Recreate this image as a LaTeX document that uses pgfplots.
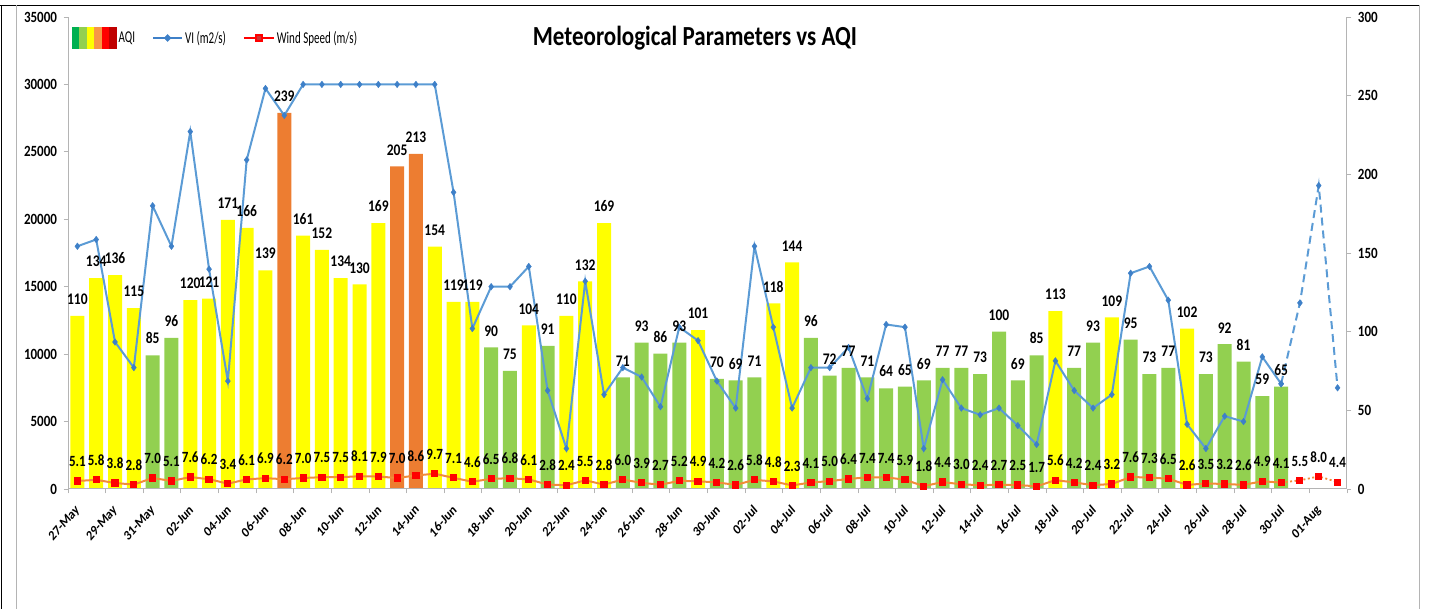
\documentclass[border=0pt]{standalone}
\usepackage{fontspec}
\setmainfont{Carlito}
\usepackage{graphicx}
\usepackage{pgfplots}
\usepackage{pgfplotstable}
\pgfplotsset{compat=1.18}
\definecolor{aqigreen}{HTML}{92D050}
\definecolor{aqiyellow}{HTML}{FFFF00}
\definecolor{aqiorange}{HTML}{ED7D31}
\definecolor{vicol}{HTML}{5B9BD5}
\definecolor{vimark}{HTML}{3E80C8}
\definecolor{wscol}{HTML}{F28C38}
\definecolor{wsmark}{HTML}{FF0000}
\definecolor{axgray}{HTML}{B4B4B4}
\definecolor{sw1}{HTML}{00B050}
\definecolor{sw2}{HTML}{92D050}
\definecolor{sw3}{HTML}{FFFF00}
\definecolor{sw4}{HTML}{F79646}
\definecolor{sw5}{HTML}{FF0000}
\definecolor{sw6}{HTML}{C00000}
\newcommand\vs[2][1.2]{\scalebox{1}[#1]{#2}}
\newcommand\rl[1]{{\fontsize{12}{14}\selectfont\bfseries\scalebox{1}[1.17]{\rotatebox{45}{#1}}\kern-4pt}}

\pgfplotstableread{
idx aqi vi ws
0 110 18000 5.1
1 134 18500 5.8
2 136 10900 3.8
3 115 9000 2.8
4 85 21000 7.0
5 96 18000 5.1
6 120 26500 7.6
7 121 16300 6.2
8 171 8000 3.4
9 166 24400 6.1
10 139 29700 6.9
11 239 27700 6.2
12 161 30000 7.0
13 152 30000 7.5
14 134 30000 7.5
15 130 30000 8.1
16 169 30000 7.9
17 205 30000 7.0
18 213 30000 8.6
19 154 30000 9.7
20 119 22000 7.1
21 119 11900 4.6
22 90 15000 6.5
23 75 15000 6.8
24 104 16500 6.1
25 91 7300 2.8
26 110 3000 2.4
27 132 15400 5.5
28 169 7000 2.8
29 71 9000 6.0
30 93 8300 3.9
31 86 6100 2.7
32 93 12000 5.2
33 101 11000 4.9
34 70 8000 4.2
35 69 6000 2.6
36 71 18000 5.8
37 118 12000 4.8
38 144 6000 2.3
39 96 9000 4.1
40 72 9000 5.0
41 77 10500 6.4
42 71 6700 7.4
43 64 12200 7.4
44 65 12000 5.9
45 69 3000 1.8
46 77 8100 4.4
47 77 6000 3.0
48 73 5500 2.4
49 100 6000 2.7
50 69 4700 2.5
51 85 3300 1.7
52 113 9500 5.6
53 77 7300 4.2
54 93 6000 2.4
55 109 7000 3.2
56 95 16000 7.6
57 73 16500 7.3
58 77 14000 6.5
59 102 4800 2.6
60 73 3000 3.5
61 92 5400 3.2
62 81 5000 2.6
63 59 9800 4.9
64 65 7800 4.1
65 nan 13800 5.5
66 nan 22500 8.0
67 nan 7500 4.4
}\data

\pgfplotsset{
  base/.style={scale only axis, width=1279pt, height=472pt, at={(68pt,120pt)},
    anchor=south west, xmin=-0.5, xmax=67.5, clip=false,
    axis line style={axgray, line width=1pt},
    tick style={axgray, line width=0.8pt},
    tick align=outside, major tick length=4.5pt,
    ticklabel style={font=\fontsize{13}{15}\selectfont\bfseries, text=black},
  },
}

\begin{document}
\begin{tikzpicture}
% outer frame
\draw[black, line width=1.5pt] (0pt,603.5pt) -- (1420pt,603.5pt);
\draw[black, line width=1.5pt] (1.5pt,0pt) -- (1.5pt,603.5pt);
\draw[axgray, line width=1pt] (16.5pt,0pt) -- (16.5pt,603.5pt);
\draw[axgray, line width=1.2pt] (1419.5pt,0pt) -- (1419.5pt,603.5pt);

% Axis A: AQI bars (right axis)
\begin{axis}[base, ymin=0, ymax=300, axis y line*=right, axis x line=none,
  ytick={0,50,...,300},
  yticklabel={\vs{\pgfmathprintnumber[assume math mode=true]{\tick}}},
  yticklabel style={xshift=3pt}]
\addplot[ybar, bar width=14pt, bar shift=0pt, fill=aqigreen, draw=none,
  restrict y to domain=0:100.5] table[x=idx,y=aqi]{\data};
\addplot[ybar, bar width=14pt, bar shift=0pt, fill=aqiyellow, draw=none,
  restrict y to domain=100.5:200.5] table[x=idx,y=aqi]{\data};
\addplot[ybar, bar width=14pt, bar shift=0pt, fill=aqiorange, draw=none,
  restrict y to domain=200.5:300] table[x=idx,y=aqi]{\data};
\end{axis}

% Axis B: VI (left axis) and x axis
\begin{axis}[base, ymin=0, ymax=35000, axis y line*=left, axis x line*=bottom,
  scaled y ticks=false,
  ytick={0,5000,...,35000},
  yticklabel={\vs{\pgfmathprintnumber[assume math mode=true,1000 sep={}]{\tick}}},
  yticklabel style={xshift=-3pt},
  xtick={-0.5,1.5,...,67.5}, xticklabel=\relax,
  xticklabel style={anchor=north east, inner sep=0pt},
  xticklabel shift=15pt,
  extra x ticks={0,2,...,66},
  extra x tick style={major tick length=0pt},
  extra x tick labels={\rl{27-May},\rl{29-May},\rl{31-May},\rl{02-Jun},\rl{04-Jun},\rl{06-Jun},\rl{08-Jun},\rl{10-Jun},\rl{12-Jun},\rl{14-Jun},\rl{16-Jun},\rl{18-Jun},\rl{20-Jun},\rl{22-Jun},\rl{24-Jun},\rl{26-Jun},\rl{28-Jun},\rl{30-Jun},\rl{02-Jul},\rl{04-Jul},\rl{06-Jul},\rl{08-Jul},\rl{10-Jul},\rl{12-Jul},\rl{14-Jul},\rl{16-Jul},\rl{18-Jul},\rl{20-Jul},\rl{22-Jul},\rl{24-Jul},\rl{26-Jul},\rl{28-Jul},\rl{30-Jul},\rl{01-Aug}},
  ]
\addplot[vicol, line width=2pt, mark=diamond*, mark size=3.3pt,
  mark options={fill=vimark, draw=vimark, line width=0.4pt},
  restrict x to domain=0:64] table[x=idx,y=vi]{\data};
\addplot[vicol, line width=2pt, dash pattern=on 8pt off 5pt, mark=diamond*, mark size=3.3pt,
  mark options={solid, fill=vimark, draw=vimark, line width=0.4pt},
  restrict x to domain=64:67] table[x=idx,y=vi]{\data};
\end{axis}

% Axis C: wind speed, labels, legend
\begin{axis}[base, ymin=0, ymax=300, hide axis,
  legend style={at={(axis description cs:0.0012,0.9555)}, anchor=west,
    fill=white, draw=none, inner xsep=2pt, inner ysep=11pt,
    font=\fontsize{11}{13}\selectfont,
    /tikz/every even column/.append style={column sep=15pt}},
  legend columns=3, legend cell align=left]
\addplot[forget plot, wscol, line width=2pt, mark=square*, mark size=2.6pt,
  mark options={fill=wsmark, draw=wsmark},
  restrict x to domain=0:64] table[x=idx,y=ws]{\data};
\addplot[forget plot, wscol, line width=1.8pt, dash pattern=on 2pt off 2.5pt, mark=square*, mark size=2.6pt,
  mark options={solid, fill=wsmark, draw=wsmark},
  restrict x to domain=64:67] table[x=idx,y=ws]{\data};
% wind labels
\addplot[forget plot, draw=none, mark=none, point meta=y,
  nodes near coords={\vs{\pgfmathprintnumber[assume math mode=true,fixed,fixed zerofill,precision=1]{\pgfplotspointmeta}}},
  every node near coord/.append style={font=\fontsize{13}{15}\selectfont\bfseries, anchor=south, inner sep=0pt, yshift=14pt}]
  table[x=idx,y=ws]{\data};
% AQI labels
\addplot[forget plot, draw=none, mark=none, point meta=y,
  nodes near coords={\vs{\pgfmathprintnumber[assume math mode=true,fixed,precision=0]{\pgfplotspointmeta}}},
  every node near coord/.append style={font=\fontsize{13.5}{15}\selectfont\bfseries, anchor=south, inner sep=0pt, yshift=11pt}]
  table[x=idx,y=aqi]{\data};
% legend
\addlegendimage{legend image code/.code={
  \fill[sw1] (0pt,-10.5pt) rectangle (7.5pt,10.5pt);
  \fill[sw2] (7.5pt,-10.5pt) rectangle (15pt,10.5pt);
  \fill[sw3] (15pt,-10.5pt) rectangle (22.5pt,10.5pt);
  \fill[sw4] (22.5pt,-10.5pt) rectangle (30pt,10.5pt);
  \fill[sw5] (30pt,-10.5pt) rectangle (37.5pt,10.5pt);
  \fill[sw6] (37.5pt,-10.5pt) rectangle (44.5pt,10.5pt);}}
\addlegendentry{\vs[1.5]{AQI}}
\addlegendimage{legend image code/.code={
  \draw[vimark, line width=2pt] (0pt,0pt) -- (29pt,0pt);
  \fill[vimark] (14.5pt,3.5pt) -- (18pt,0pt) -- (14.5pt,-3.5pt) -- (11pt,0pt) -- cycle;}}
\addlegendentry{\vs[1.5]{VI (m2/s)}}
\addlegendimage{legend image code/.code={
  \draw[wsmark, line width=2pt] (0pt,0pt) -- (30pt,0pt);
  \fill[wsmark] (11.5pt,-3.5pt) rectangle (18.5pt,3.5pt);
  \fill[wsmark!60!gray] (13.5pt,-1.5pt) rectangle (16.5pt,1.5pt);}}
\addlegendentry{\vs[1.5]{Wind Speed (m/s)}}
\end{axis}

\node[font=\fontsize{23}{27}\selectfont\bfseries] at (695pt,571pt) {\vs{Meteorological Parameters vs AQI}};

\pgfresetboundingbox
\path[use as bounding box] (0pt,0pt) rectangle (1433pt,609pt);
\end{tikzpicture}
\end{document}
